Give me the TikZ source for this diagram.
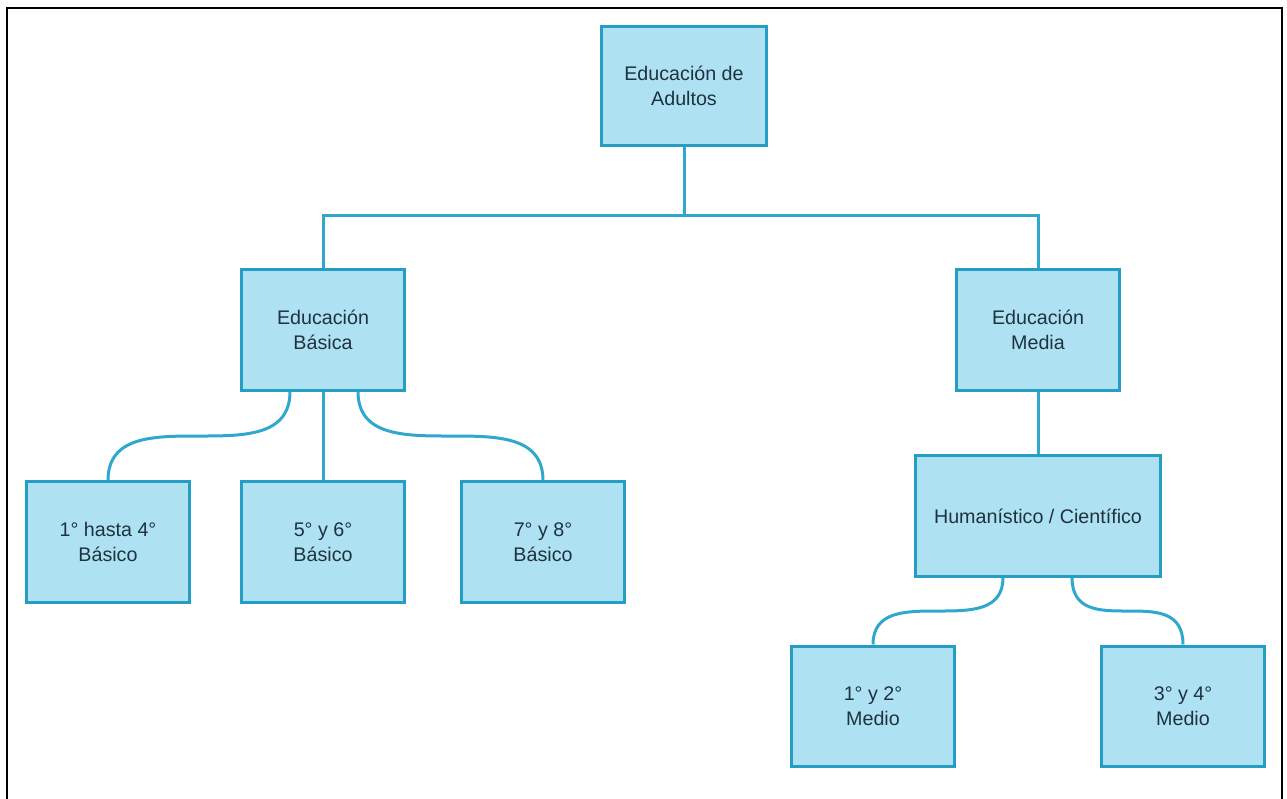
\documentclass[tikz,border=0pt]{standalone}
\usepackage{fontspec}
\setmainfont{Liberation Sans}
\usetikzlibrary{calc}
\definecolor{boxfill}{RGB}{174,226,243}
\definecolor{boxline}{RGB}{38,158,196}
\definecolor{conline}{RGB}{48,168,206}
\definecolor{txt}{RGB}{30,50,64}
\begin{document}
\begin{tikzpicture}[x=0.025cm,y=-0.025cm,
  box/.style={draw=boxline,fill=boxfill,line width=0.075cm,minimum width=4.05cm,minimum height=3.0cm,
    align=center,font=\fontsize{14}{18}\selectfont,text=txt,inner sep=0pt},
  con/.style={draw=conline,line width=0.075cm}]
\useasboundingbox (0,0) rectangle (1287,798);
\fill[white] (0,0) rectangle (1287,798);
\draw[black,line width=0.05cm] (7,800) -- (7,8) -- (1282,8) -- (1282,800);
\node[box,minimum width=4.1cm,minimum height=2.975cm] (top) at (684,86) {Educación de\\Adultos};
\node[box] (bas) at (323,330) {Educación\\Básica};
\node[box] (med) at (1038,330) {Educación\\Media};
\node[box] (c1) at (108,542) {1° hasta 4°\\Básico};
\node[box] (c2) at (323,542) {5° y 6°\\Básico};
\node[box] (c3) at (543,542) {7° y 8°\\Básico};
\node[box,minimum width=6.125cm] (hum) at (1038,516) {Humanístico / Científico};
\node[box] (m1) at (873,706) {1° y 2°\\Medio};
\node[box] (m2) at (1183,706) {3° y 4°\\Medio};
\coordinate (j) at (684,215);
\coordinate (ba) at ($(bas.south)+(-33,0)$);
\coordinate (bb) at ($(bas.south)+(35,0)$);
\coordinate (ha) at ($(hum.south)+(-35,0)$);
\coordinate (hb) at ($(hum.south)+(34,0)$);
\draw[con] (top.south) -- (j);
\draw[con] (bas.north) |- (j) -| (med.north);
\draw[con] (bas.south) -- (c2.north);
\draw[con] (ba) .. controls (ba |- c1.north) and (c1.north |- ba) .. (c1.north);
\draw[con] (bb) .. controls (bb |- c3.north) and (c3.north |- bb) .. (c3.north);
\draw[con] (med.south) -- (hum.north);
\draw[con] (ha) .. controls (ha |- m1.north) and (m1.north |- ha) .. (m1.north);
\draw[con] (hb) .. controls (hb |- m2.north) and (m2.north |- hb) .. (m2.north);
\end{tikzpicture}
\end{document}
